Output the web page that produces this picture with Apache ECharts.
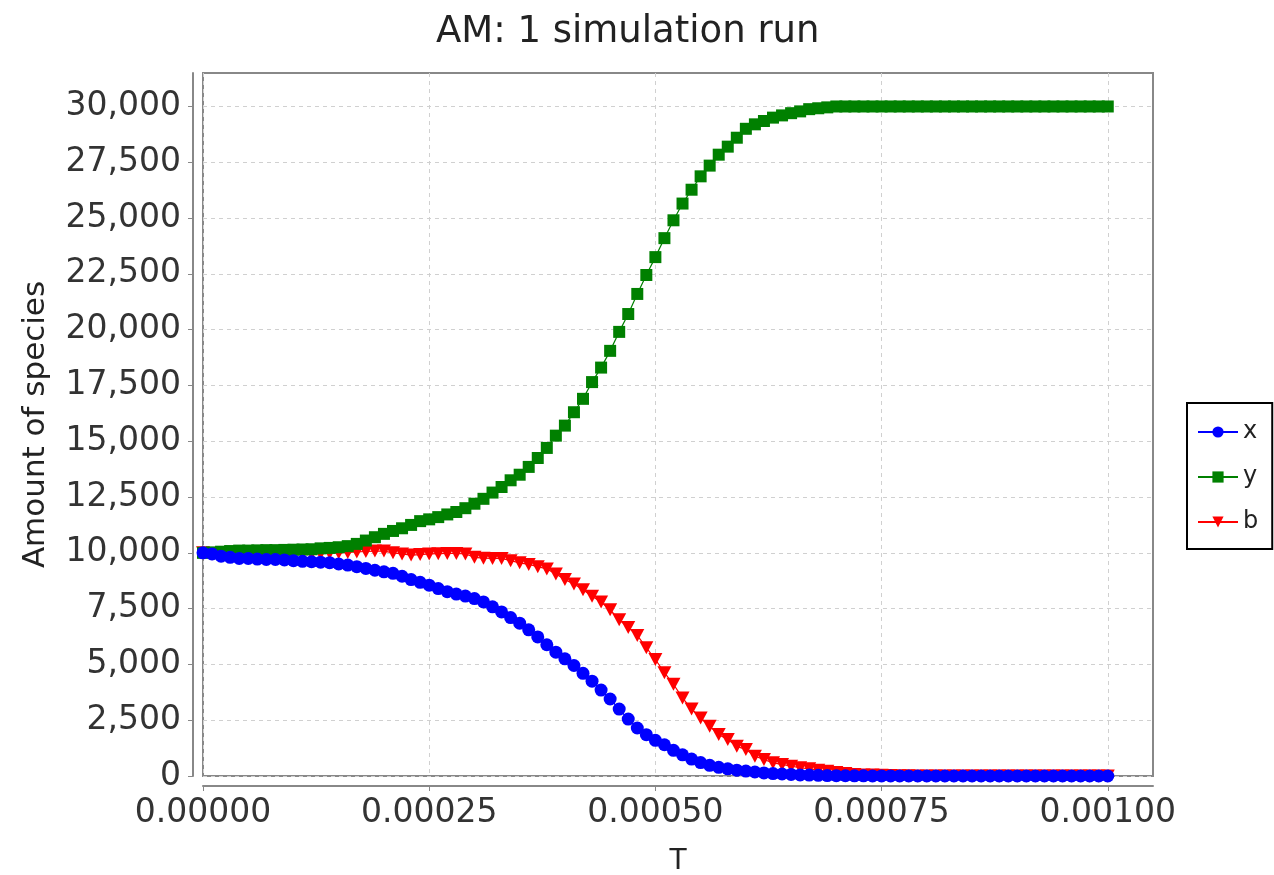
<!DOCTYPE html>
<html><head><meta charset="utf-8">
<script src="https://cdn.jsdelivr.net/npm/echarts@6/dist/echarts.min.js"></script>
<style>html,body{margin:0;padding:0;background:#fff}#c{width:1274px;height:875px}</style>
</head><body><div id="c"></div>
<script>
// Sample times (T)
const times = [
 0.00000,0.00001,0.00002,0.00003,0.00004,0.00005,0.00006,0.00007,0.00008,0.00009,
 0.00010,0.00011,0.00012,0.00013,0.00014,0.00015,0.00016,0.00017,0.00018,0.00019,
 0.00020,0.00021,0.00022,0.00023,0.00024,0.00025,0.00026,0.00027,0.00028,0.00029,
 0.00030,0.00031,0.00032,0.00033,0.00034,0.00035,0.00036,0.00037,0.00038,0.00039,
 0.00040,0.00041,0.00042,0.00043,0.00044,0.00045,0.00046,0.00047,0.00048,0.00049,
 0.00050,0.00051,0.00052,0.00053,0.00054,0.00055,0.00056,0.00057,0.00058,0.00059,
 0.00060,0.00061,0.00062,0.00063,0.00064,0.00065,0.00066,0.00067,0.00068,0.00069,
 0.00070,0.00071,0.00072,0.00073,0.00074,0.00075,0.00076,0.00077,0.00078,0.00079,
 0.00080,0.00081,0.00082,0.00083,0.00084,0.00085,0.00086,0.00087,0.00088,0.00089,
 0.00090,0.00091,0.00092,0.00093,0.00094,0.00095,0.00096,0.00097,0.00098,0.00099,
 0.00100
];
// Species x (blue)
const xValues = [
 10000,9950,9850,9800,9750,9750,9720,9700,9700,9680,
 9650,9620,9600,9580,9560,9500,9450,9380,9300,9220,
 9150,9080,8950,8800,8680,8550,8400,8260,8150,8060,
 7950,7800,7580,7350,7100,6850,6550,6230,5880,5550,
 5250,4950,4600,4250,3850,3450,3000,2550,2150,1850,
 1600,1400,1150,950,760,600,480,390,320,260,
 220,180,140,110,90,70,50,40,30,20,
 15,10,8,6,5,4,3,2,1,1,
 0,0,0,0,0,0,0,0,0,0,
 0,0,0,0,0,0,0,0,0,0,
 0
];
// Species y (green)
const yValues = [
 10000,10020,10050,10080,10100,10100,10110,10120,10120,10130,
 10140,10150,10160,10200,10220,10250,10300,10400,10550,10700,
 10850,10980,11100,11250,11420,11500,11600,11720,11830,12000,
 12200,12420,12700,12950,13250,13500,13850,14250,14700,15250,
 15700,16300,16900,17650,18300,19050,19900,20700,21600,22450,
 23250,24100,24900,25650,26270,26870,27350,27840,28200,28600,
 29000,29200,29350,29500,29600,29700,29780,29880,29920,29960,
 30000,30000,30000,30000,30000,30000,30000,30000,30000,30000,
 30000,30000,30000,30000,30000,30000,30000,30000,30000,30000,
 30000,30000,30000,30000,30000,30000,30000,30000,30000,30000,
 30000
];
// Species b (red)
const bValues = [
 10000,9950,9920,9900,9900,9880,9900,9900,9920,9920,
 9930,9950,9960,9970,9990,10000,10020,10040,10060,10080,
 10080,10000,9950,9900,9920,9950,9960,9970,9970,9950,
 9800,9760,9750,9750,9650,9550,9480,9380,9280,9050,
 8800,8600,8350,8050,7800,7450,7000,6650,6300,5750,
 5220,4630,4110,3500,3000,2600,2230,1860,1630,1330,
 1190,890,740,590,520,440,370,320,260,210,
 160,110,70,50,40,30,20,15,10,5,
 0,0,0,0,0,0,0,0,0,0,
 0,0,0,0,0,0,0,0,0,0,
 0
];
const seriesNames = ['x', 'y', 'b'];
const seriesColors = ['#0000ff', '#008000', '#ff0000'];
const xTickValues = [0, 0.00025, 0.0005, 0.00075, 0.001];
const yTickValues = [0,2500,5000,7500,10000,12500,15000,17500,20000,22500,25000,27500,30000];

const FONT = 'DejaVu Sans';
const pairs = vals => times.map((t, i) => [t, vals[i]]);
const tri = 'path://M0,0 L10,0 L5,10 Z';

const chart = echarts.init(document.getElementById('c'), null, {renderer: 'canvas'});
const axisCommon = {
  axisLine: {show: true, onZero: false, lineStyle: {color: '#888', width: 2}},
  axisTick: {show: true, length: 5, inside: false, lineStyle: {color: '#888', width: 1}},
  splitLine: {show: true, lineStyle: {color: '#d0d0d0', type: [4, 4], width: 1}}
};
chart.setOption({
  animation: false,
  backgroundColor: '#fff',
  title: {
    text: 'AM: 1 simulation run', left: 431, top: 9,
    textStyle: {fontFamily: FONT, fontSize: 37, fontWeight: 'normal', color: '#222'}
  },
  legend: {
    orient: 'vertical', left: 1187, top: 403,
    data: seriesNames,
    itemWidth: 40, itemHeight: 14, itemGap: 21,
    padding: [17, 14, 15, 10],
    borderColor: '#000', borderWidth: 2,
    textStyle: {fontFamily: FONT, fontSize: 24, color: '#222'}
  },
  grid: {
    left: 203, right: 121, top: 73, bottom: 99,
    containLabel: false, outerBoundsMode: 'none',
    show: true, borderColor: '#888', borderWidth: 2, backgroundColor: '#fff'
  },
  xAxis: Object.assign({}, axisCommon, {
    type: 'value', min: 0, max: 0.00105, interval: 0.00025,
    offset: 10,
    name: 'T', nameLocation: 'middle', nameGap: 62,
    nameTextStyle: {fontFamily: FONT, fontSize: 28, color: '#222'},
    axisTick: Object.assign({}, axisCommon.axisTick, {customValues: xTickValues}),
    axisLabel: {
      customValues: xTickValues,
      fontFamily: FONT, fontSize: 33, color: '#333', margin: 11,
      formatter: v => v.toFixed(5)
    }
  }),
  yAxis: Object.assign({}, axisCommon, {
    type: 'value', min: 0, max: 31500, interval: 2500,
    offset: 10,
    name: 'Amount of species', nameLocation: 'middle', nameGap: 142,
    nameTextStyle: {fontFamily: FONT, fontSize: 31, color: '#222'},
    axisTick: Object.assign({}, axisCommon.axisTick, {customValues: yTickValues}),
    axisLabel: {
      customValues: yTickValues,
      fontFamily: FONT, fontSize: 33, color: '#333', margin: 12,
      formatter: v => v.toLocaleString('en-US')
    }
  }),
  series: [
    {name: seriesNames[0], type: 'line', data: pairs(xValues), z: 4,
     symbol: 'circle', symbolSize: 13, showAllSymbol: true,
     itemStyle: {color: seriesColors[0]}, lineStyle: {color: seriesColors[0], width: 1.2}},
    {name: seriesNames[1], type: 'line', data: pairs(yValues), z: 3,
     symbol: 'rect', symbolSize: 12, showAllSymbol: true,
     itemStyle: {color: seriesColors[1]}, lineStyle: {color: seriesColors[1], width: 1.2}},
    {name: seriesNames[2], type: 'line', data: pairs(bValues), z: 2,
     symbol: tri, symbolSize: [14, 13], showAllSymbol: true,
     itemStyle: {color: seriesColors[2]}, lineStyle: {color: seriesColors[2], width: 1.2}}
  ]
});
</script>
</body></html>
